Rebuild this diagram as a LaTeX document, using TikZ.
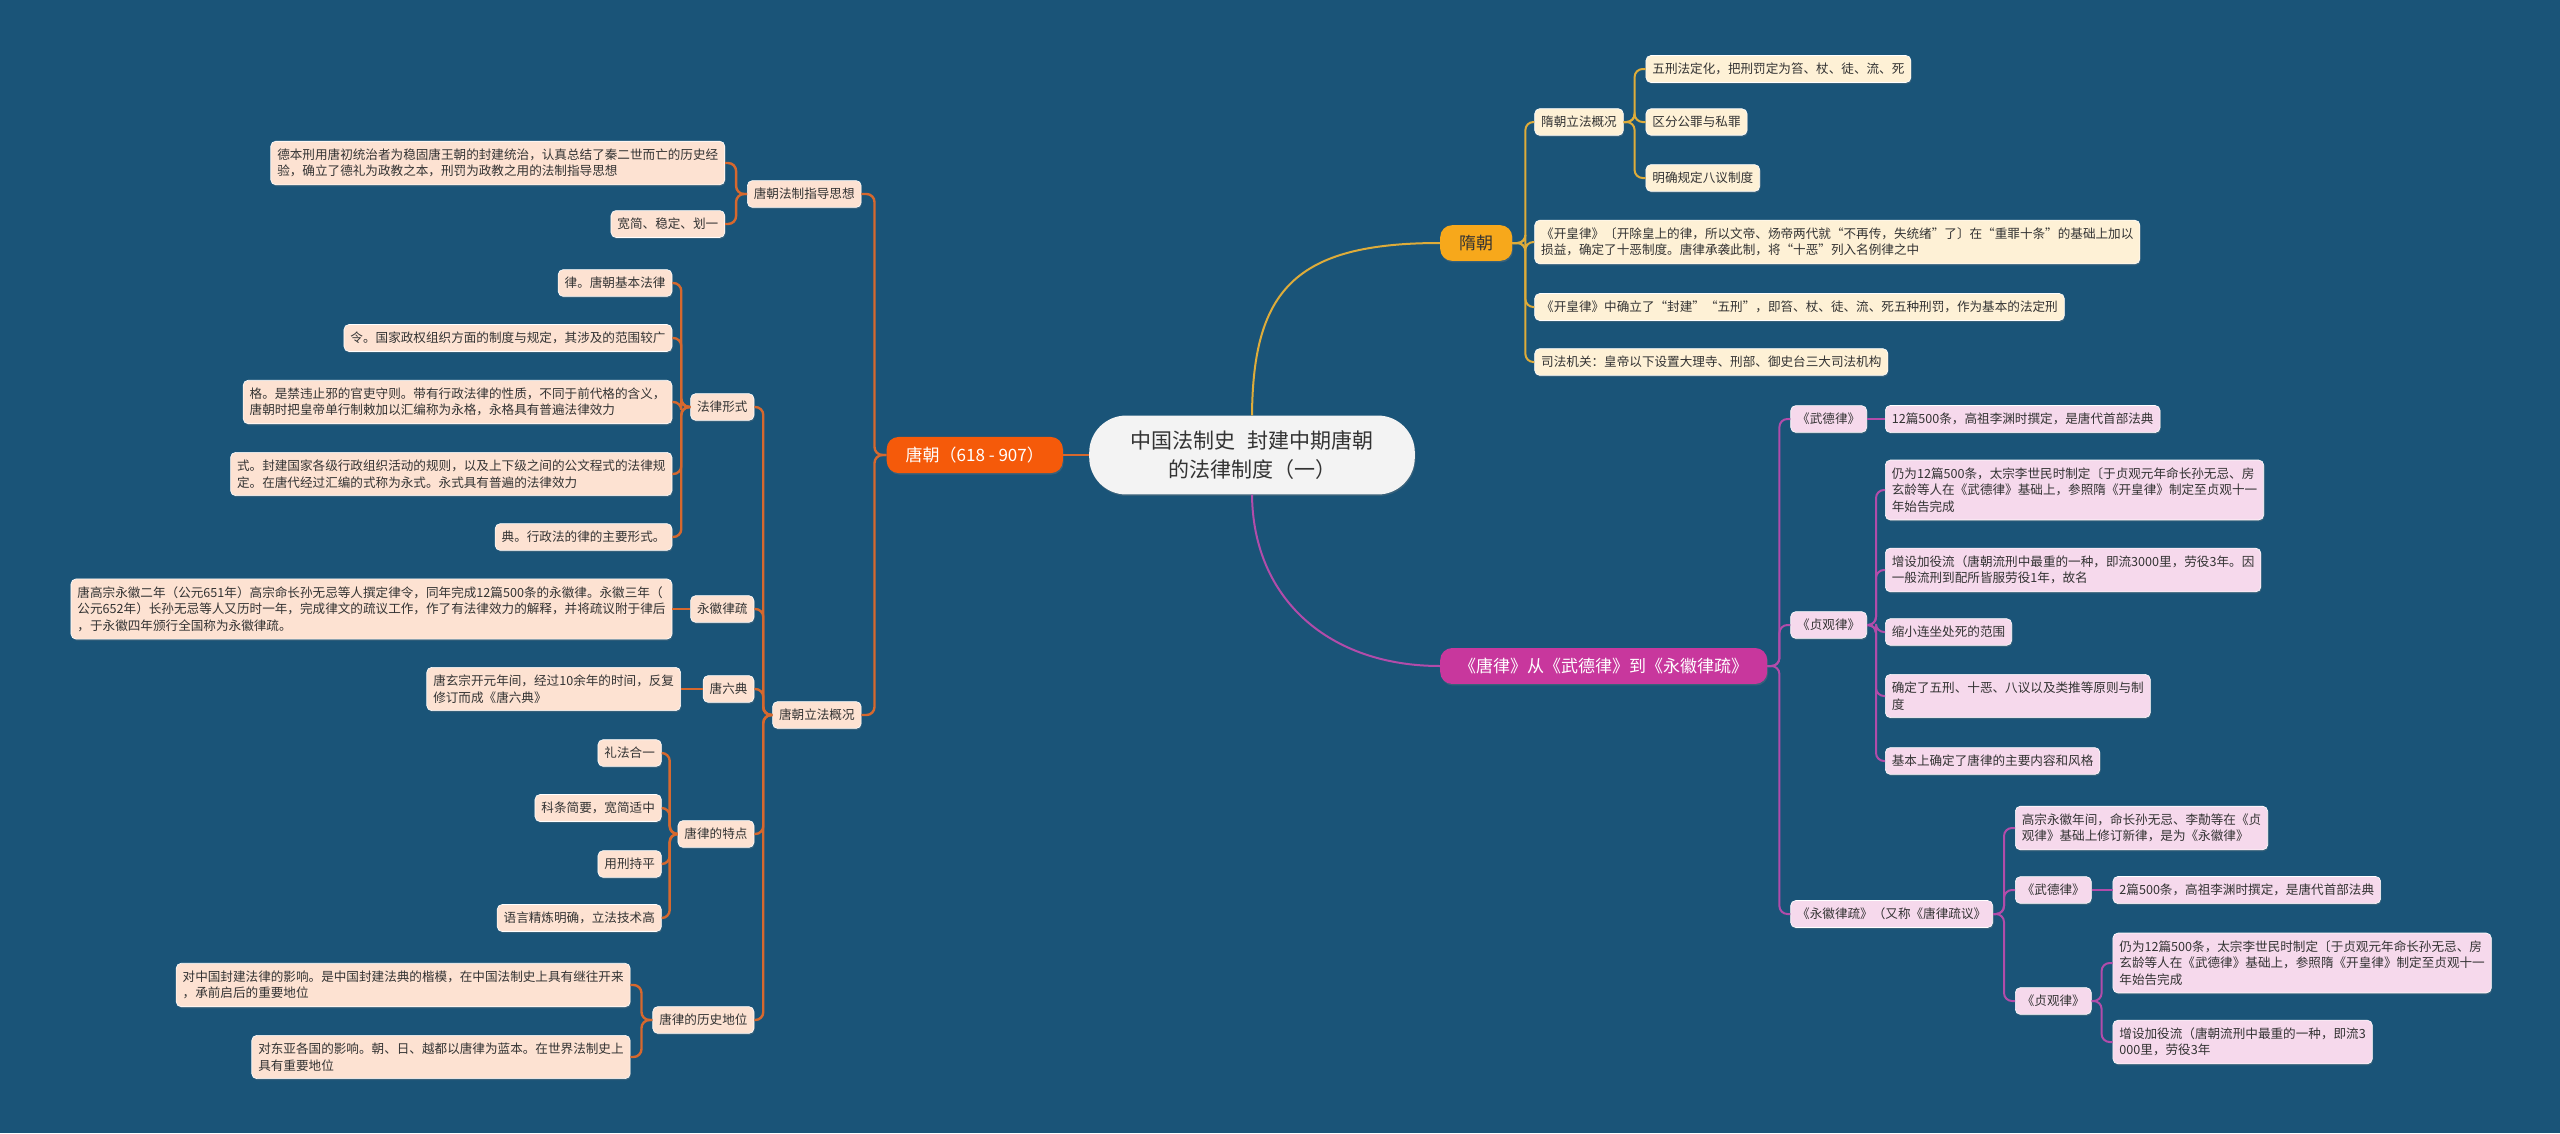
\documentclass[tikz,border=0pt]{standalone}
\usepackage{fontspec}
\setmainfont[Kerning=Off]{Noto Sans CJK SC}
\usetikzlibrary{calc,shadows}
\definecolor{bgc}{RGB}{26,84,120}
\definecolor{txt}{RGB}{51,51,51}
\definecolor{suimain}{RGB}{247,168,27}
\definecolor{suiln}{RGB}{222,172,58}
\definecolor{suifill}{RGB}{254,241,214}
\definecolor{tangmain}{RGB}{245,90,10}
\definecolor{tangln}{RGB}{214,104,46}
\definecolor{tangfill}{RGB}{253,226,210}
\definecolor{lawmain}{RGB}{200,55,157}
\definecolor{lawln}{RGB}{178,76,170}
\definecolor{lawfill}{RGB}{246,217,236}
\definecolor{centerfill}{RGB}{243,243,243}
\newcommand\leaffont{\fontsize{12.6}{16.5}\selectfont}
\newcommand\branchfont{\fontsize{17}{21}\selectfont}
\newcommand\titlefont{\fontsize{21}{29}\selectfont}
\begin{document}
\begin{tikzpicture}[x=1pt,y=-1pt,
  leaf/.style={rounded corners=5pt, inner xsep=6.5pt, inner ysep=7.5pt, align=left,
    font=\leaffont, text=txt, draw=white, line width=0.6pt,
    drop shadow={opacity=0.3, shadow xshift=0.8pt, shadow yshift=-1.5pt}},
  sleaf/.style={leaf, fill=suifill},
  tleaf/.style={leaf, fill=tangfill},
  lleaf/.style={leaf, fill=lawfill},
  mainnode/.style={rounded corners=12pt, inner xsep=19pt, inner ysep=10pt,
    font=\branchfont, drop shadow={opacity=0.3, shadow xshift=0.8pt, shadow yshift=-1.5pt}},
  rootnode/.style={rounded corners=37pt, fill=centerfill, inner xsep=41pt, inner ysep=15pt,
    align=center, font=\titlefont, text=txt,
    drop shadow={opacity=0.3, shadow xshift=0.8pt, shadow yshift=-1.5pt}},
  sline/.style={draw=suiln, line width=2pt, rounded corners=8pt},
  tline/.style={draw=tangln, line width=2.4pt, rounded corners=8pt},
  lline/.style={draw=lawln, line width=2pt, rounded corners=8pt},
]
\fill[bgc] (0,0) rectangle (2560,1133);
\useasboundingbox (0,0) rectangle (2560,1133);

% root and main branches
\node[rootnode] (root) at (1252,455) {中国法制史\hspace{0.6em}封建中期唐朝\\的法律制度（一）};
\node[mainnode, fill=suimain, text=txt, anchor=west] (sui) at (1440,243) {隋朝};
\node[mainnode, fill=tangmain, text=white, anchor=east] (tang) at (1063,455) {唐朝（618 - 907）};
\node[mainnode, fill=lawmain, text=white, anchor=west] (law) at (1440,666) {《唐律》从《武德律》到《永徽律疏》};

% Sui
\node[sleaf, anchor=west, xshift=22pt] (s1) at (sui.east |- 0,122) {隋朝立法概况};
\node[sleaf, anchor=west, xshift=22pt] (s11) at (s1.east |- 0,69) {五刑法定化，把刑罚定为笞、杖、徒、流、死};
\node[sleaf, anchor=west, xshift=22pt] (s12) at (s1.east |- 0,122) {区分公罪与私罪};
\node[sleaf, anchor=west, xshift=22pt] (s13) at (s1.east |- 0,178) {明确规定八议制度};
\node[sleaf, anchor=west, xshift=22pt] (s2) at (sui.east |- 0,242) {《开皇律》〔开除皇上的律，所以文帝、炀帝两代就“不再传，失统绪”了〕在“重罪十条”的基础上加以\\损益，确定了十恶制度。唐律承袭此制，将“十恶”列入名例律之中};
\node[sleaf, anchor=west, xshift=22pt] (s3) at (sui.east |- 0,307) {《开皇律》中确立了“封建”“五刑”，即笞、杖、徒、流、死五种刑罚，作为基本的法定刑};
\node[sleaf, anchor=west, xshift=22pt] (s4) at (sui.east |- 0,362) {司法机关：皇帝以下设置大理寺、刑部、御史台三大司法机构};

% Tang law
\node[lleaf, anchor=west, xshift=23pt] (l1) at (law.east |- 0,419) {《武德律》};
\node[lleaf, anchor=west, xshift=18pt] (l11) at (l1.east |- 0,419) {12篇500条，高祖李渊时撰定，是唐代首部法典};
\node[lleaf, anchor=west, xshift=23pt] (l2) at (law.east |- 0,625) {《贞观律》};
\node[lleaf, anchor=west, xshift=18pt] (l21) at (l2.east |- 0,490) {仍为12篇500条，太宗李世民时制定〔于贞观元年命长孙无忌、房\\玄龄等人在《武德律》基础上，参照隋《开皇律》制定至贞观十一\\年始告完成};
\node[lleaf, anchor=west, xshift=18pt] (l22) at (l2.east |- 0,570) {增设加役流（唐朝流刑中最重的一种，即流3000里，劳役3年。因\\一般流刑到配所皆服劳役1年，故名};
\node[lleaf, anchor=west, xshift=18pt] (l23) at (l2.east |- 0,632) {缩小连坐处死的范围};
\node[lleaf, anchor=west, xshift=18pt] (l24) at (l2.east |- 0,696) {确定了五刑、十恶、八议以及类推等原则与制\\度};
\node[lleaf, anchor=west, xshift=18pt] (l25) at (l2.east |- 0,761) {基本上确定了唐律的主要内容和风格};
\node[lleaf, anchor=west, xshift=23pt] (l3) at (law.east |- 0,914) {《永徽律疏》（又称《唐律疏议》};
\node[lleaf, anchor=west, xshift=22pt] (l31) at (l3.east |- 0,828) {高宗永徽年间，命长孙无忌、李勣等在《贞\\观律》基础上修订新律，是为《永徽律》};
\node[lleaf, anchor=west, xshift=22pt] (l32) at (l3.east |- 0,890) {《武德律》};
\node[lleaf, anchor=west, xshift=21pt] (l321) at (l32.east |- 0,890) {2篇500条，高祖李渊时撰定，是唐代首部法典};
\node[lleaf, anchor=west, xshift=22pt] (l33) at (l3.east |- 0,1001) {《贞观律》};
\node[lleaf, anchor=west, xshift=21pt] (l331) at (l33.east |- 0,963) {仍为12篇500条，太宗李世民时制定〔于贞观元年命长孙无忌、房\\玄龄等人在《武德律》基础上，参照隋《开皇律》制定至贞观十一\\年始告完成};
\node[lleaf, anchor=west, xshift=21pt] (l332) at (l33.east |- 0,1042) {增设加役流（唐朝流刑中最重的一种，即流3\\000里，劳役3年};

% Tang
\node[tleaf, anchor=east, xshift=-25pt] (t1) at (tang.west |- 0,194) {唐朝法制指导思想};
\node[tleaf, anchor=east, xshift=-22pt] (t11) at (t1.west |- 0,163) {德本刑用唐初统治者为稳固唐王朝的封建统治，认真总结了秦二世而亡的历史经\\验，确立了德礼为政教之本，刑罚为政教之用的法制指导思想};
\node[tleaf, anchor=east, xshift=-22pt] (t12) at (t1.west |- 0,224) {宽简、稳定、划一};
\node[tleaf, anchor=east, xshift=-25pt] (t2) at (tang.west |- 0,715) {唐朝立法概况};
\node[tleaf, anchor=east, xshift=-18pt] (t21) at (t2.west |- 0,407) {法律形式};
\node[tleaf, anchor=east, xshift=-18pt] (t211) at (t21.west |- 0,283) {律。唐朝基本法律};
\node[tleaf, anchor=east, xshift=-18pt] (t212) at (t21.west |- 0,338) {令。国家政权组织方面的制度与规定，其涉及的范围较广};
\node[tleaf, anchor=east, xshift=-18pt] (t213) at (t21.west |- 0,402) {格。是禁违止邪的官吏守则。带有行政法律的性质，不同于前代格的含义，\\唐朝时把皇帝单行制敕加以汇编称为永格，永格具有普遍法律效力};
\node[tleaf, anchor=east, xshift=-18pt] (t214) at (t21.west |- 0,474) {式。封建国家各级行政组织活动的规则，以及上下级之间的公文程式的法律规\\定。在唐代经过汇编的式称为永式。永式具有普遍的法律效力};
\node[tleaf, anchor=east, xshift=-18pt] (t215) at (t21.west |- 0,537) {典。行政法的律的主要形式。};
\node[tleaf, anchor=east, xshift=-18pt] (t22) at (t2.west |- 0,609) {永徽律疏};
\node[tleaf, anchor=east, xshift=-18pt] (t221) at (t22.west |- 0,609) {唐高宗永徽二年（公元651年）高宗命长孙无忌等人撰定律令，同年完成12篇500条的永徽律。永徽三年（\\公元652年）长孙无忌等人又历时一年，完成律文的疏议工作，作了有法律效力的解释，并将疏议附于律后\\，于永徽四年颁行全国称为永徽律疏。};
\node[tleaf, anchor=east, xshift=-18pt] (t23) at (t2.west |- 0,689) {唐六典};
\node[tleaf, anchor=east, xshift=-22pt] (t231) at (t23.west |- 0,689) {唐玄宗开元年间，经过10余年的时间，反复\\修订而成《唐六典》};
\node[tleaf, anchor=east, xshift=-18pt] (t24) at (t2.west |- 0,834) {唐律的特点};
\node[tleaf, anchor=east, xshift=-16pt] (t241) at (t24.west |- 0,753) {礼法合一};
\node[tleaf, anchor=east, xshift=-16pt] (t242) at (t24.west |- 0,808) {科条简要，宽简适中};
\node[tleaf, anchor=east, xshift=-16pt] (t243) at (t24.west |- 0,864) {用刑持平};
\node[tleaf, anchor=east, xshift=-16pt] (t244) at (t24.west |- 0,918) {语言精炼明确，立法技术高};
\node[tleaf, anchor=east, xshift=-18pt] (t25) at (t2.west |- 0,1020) {唐律的历史地位};
\node[tleaf, anchor=east, xshift=-22pt] (t251) at (t25.west |- 0,985) {对中国封建法律的影响。是中国封建法典的楷模，在中国法制史上具有继往开来\\，承前启后的重要地位};
\node[tleaf, anchor=east, xshift=-22pt] (t252) at (t25.west |- 0,1057) {对东亚各国的影响。朝、日、越都以唐律为蓝本。在世界法制史上\\具有重要地位};

% connectors from root
\draw[tline] (root.west) -- (tang.east);
\draw[sline] (root.north) .. controls (1253,290) and (1295,243) .. (sui.west);
\draw[lline] (root.south) .. controls (1253,600) and (1330,666) .. (law.west);

% Sui connectors
\foreach \c in {s1,s2,s3,s4} \draw[sline] (sui.east) -- ++(13,0) |- (\c.west);
\foreach \c in {s11,s12,s13} \draw[sline] (s1.east) -- ++(11,0) |- (\c.west);

% Law connectors
\foreach \c in {l1,l2,l3} \draw[lline] (law.east) -- ++(12,0) |- (\c.west);
\draw[lline] (l1.east) -- (l11.west);
\foreach \c in {l21,l22,l23,l24,l25} \draw[lline] (l2.east) -- ++(9,0) |- (\c.west);
\foreach \c in {l31,l32,l33} \draw[lline] (l3.east) -- ++(11,0) |- (\c.west);
\draw[lline] (l32.east) -- (l321.west);
\foreach \c in {l331,l332} \draw[lline] (l33.east) -- ++(10,0) |- (\c.west);

% Tang connectors
\foreach \c in {t1,t2} \draw[tline] (tang.west) -- ++(-12,0) |- (\c.east);
\foreach \c in {t11,t12} \draw[tline] (t1.west) -- ++(-11,0) |- (\c.east);
\foreach \c in {t21,t22,t23,t24,t25} \draw[tline] (t2.west) -- ++(-9,0) |- (\c.east);
\foreach \c in {t211,t212,t213,t214,t215} \draw[tline] (t21.west) -- ++(-9,0) |- (\c.east);
\draw[tline] (t22.west) -- (t221.east);
\draw[tline] (t23.west) -- (t231.east);
\foreach \c in {t241,t242,t243,t244} \draw[tline] (t24.west) -- ++(-8,0) |- (\c.east);
\foreach \c in {t251,t252} \draw[tline] (t25.west) -- ++(-11,0) |- (\c.east);
\end{tikzpicture}
\end{document}
